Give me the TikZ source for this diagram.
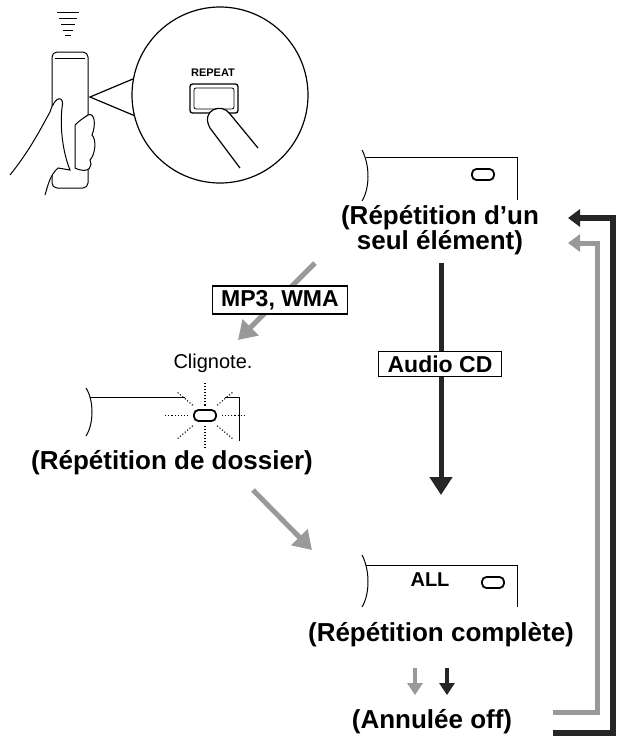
\documentclass[tikz,border=0pt]{standalone}
\usepackage{fontspec}
\setmainfont{Liberation Sans}
\usetikzlibrary{arrows.meta,calc}
\begin{document}
\begin{tikzpicture}[x=1pt,y=-1pt,
 lbl/.style={font=\bfseries\fontsize{26}{25}\selectfont,align=center,inner sep=1pt},
 box/.style={draw,line width=1.4pt,font=\bfseries\fontsize{23}{24}\selectfont,fill=white,inner xsep=9pt,inner ysep=4pt},
 blk/.style={line width=5pt,black!85,-{Triangle[length=18pt,width=22pt]}},
 gry/.style={line width=5pt,black!40,-{Triangle[length=18pt,width=22pt]}},
 disp/.style={line width=1pt},
 icon/.style={line width=1.8pt,rounded corners=4.5pt},
 rep/.style={line width=1.3pt,rounded corners=2.5pt}]
\useasboundingbox (0,0) rectangle (623,740);
% remote and hand
\draw[line width=1pt,rounded corners=5pt] (52,52) rectangle (88,188);
\draw[line width=0.7pt] (55,58) -- (85,58);
\foreach \w/\y in {11/12,9/18,7/24,5/30,3/35} \draw[line width=0.8pt] (68-\w,\y) -- (68+\w,\y);
\draw[line width=1pt,fill=white] (10,175) .. controls (30,150) and (40,130) .. (50,112) .. controls (55,95) and (65,95) .. (62,108) .. controls (60,125) and (62,150) .. (70,170) -- (58,168) .. controls (50,175) and (48,185) .. (45,195);
\draw[line width=1pt,fill=white] (88,115) .. controls (95,112) and (96,125) .. (92,135) .. controls (97,140) and (95,155) .. (90,160) .. controls (93,165) and (90,175) .. (75,168) -- (75,125) .. controls (80,120) and (85,117) .. (88,115);
% magnifier
\coordinate (tip) at (90,97);
\draw[line width=1.2pt,fill=white] (tip) -- (140,76) -- (140,118) -- cycle;
\node[circle,draw,line width=1.2pt,fill=white,minimum size=176pt] (mag) at (220,95) {};
\node[font=\fontsize{11}{12}\selectfont\bfseries] (rl) at (213,73) {REPEAT};
\draw[rep] (190,84) rectangle (238,113);
\draw[line width=0.8pt,rounded corners=2pt] (194,88) rectangle (234,109);
\draw[line width=1.2pt,fill=white] (240,168) -- (210,128) .. controls (200,110) and (222,102) .. (230,114) -- (258,148);
% display 1
\draw[disp] (362,150) .. controls (370,165) and (370,188) .. (362,201);
\draw[disp] (366,157) -- (517,157) -- (517,200);
\draw[icon] (472,169) rectangle (494,180);
\node[lbl] (s1) at (440,230) {(Répétition d'un\\seul élément)};
% display 2
\draw[disp] (86,388) .. controls (94,400) and (94,424) .. (86,436);
\draw[disp] (90,397) -- (185,397);
\draw[disp] (225,397) -- (239,397) -- (239,441);
\draw[icon] (194,410) rectangle (216,421);
\foreach \a in {0,180} \draw[line width=1.1pt,dotted] ($(205,415.5)+(\a:17)$) -- ($(205,415.5)+(\a:40)$);
\foreach \a in {90,270} \draw[line width=1.1pt,dotted] ($(205,415.5)+(\a:10)$) -- ($(205,415.5)+(\a:33)$);
\foreach \a in {40,140,220,320} \draw[line width=1.1pt,dotted] ($(205,415.5)+(\a:16)$) -- ($(205,415.5)+(\a:36)$);
\node (clig) at (213,363) {\fontsize{20}{22}\selectfont Clignote.};
\node[lbl] (s2) at (172,463) {(Répétition de dossier)};
% display 3
\draw[disp] (362,555) .. controls (370,570) and (370,594) .. (362,607);
\draw[disp] (366,565) -- (517,565) -- (517,607);
\node[font=\bfseries\fontsize{20}{22}\selectfont] (all) at (430,580) {ALL};
\draw[icon] (482,577) rectangle (504,588);
\node[lbl] (s3) at (441,635) {(Répétition complète)};
\node[lbl] (s4) at (432,722) {(Annulée off)};
% arrows
\coordinate (a1) at (441,263); \coordinate (a2) at (441,495);
\draw[blk] (a1) -- (a2);
\node[box] (acd) at (440,364) {Audio CD};
\coordinate (g1) at (315,263); \coordinate (g2) at (238,340);
\draw[gry] (g1) -- (g2);
\node[box] (mp) at (280,300) {MP3, WMA};
\coordinate (g3) at (253,490); \coordinate (g4) at (312,550);
\draw[gry] (g3) -- (g4);
\coordinate (ga) at (415,668); \coordinate (gb) at (415,695);
\draw[gry,line width=4pt,-{Triangle[length=12pt,width=15pt]}] (ga) -- (gb);
\coordinate (ba) at (447,668); \coordinate (bb) at (447,695);
\draw[blk,line width=4pt,-{Triangle[length=12pt,width=15pt]}] (ba) -- (bb);
% loop-back
\coordinate (l1) at (553,712); \coordinate (l2) at (568,243);
\draw[gry,line width=5pt,-{Triangle[length=12pt,width=17pt]}] (l1) -- (597,712) -- (597,243) -- (l2);
\coordinate (k1) at (553,733); \coordinate (k2) at (568,218);
\draw[blk,line width=6pt,-{Triangle[length=12pt,width=17pt]}] (k1) -- (613,733) -- (613,218) -- (k2);
\end{tikzpicture}
\end{document}
